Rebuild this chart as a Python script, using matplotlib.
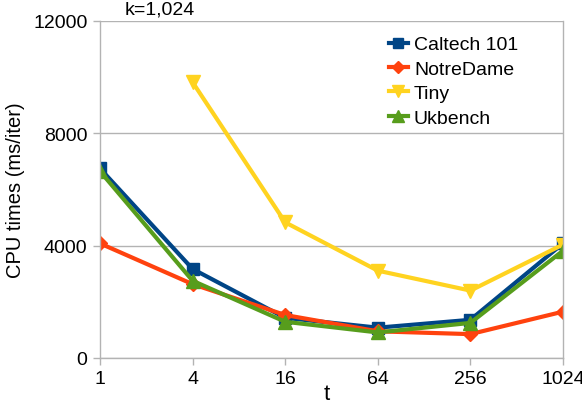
import matplotlib
matplotlib.use("Agg")
import matplotlib.pyplot as plt

t_values = [1, 4, 16, 64, 256, 1024]
t_labels = ["1", "4", "16", "64", "256", "1024"]
caltech = [6750, 3170, 1430, 1080, 1360, 4080]
notredame = [4080, 2630, 1530, 950, 850, 1650]
tiny_t = [4, 16, 64, 256, 1024]
tiny = [9820, 4830, 3110, 2400, 4040]
ukbench = [6650, 2750, 1290, 910, 1250, 3820]
y_ticks = [0, 4000, 8000, 12000]

plt.rcParams['font.family'] = ['Liberation Sans', 'DejaVu Sans']

fig = plt.figure(figsize=(5.82, 4.06), dpi=100)
ax = fig.add_axes([100/582, 1-359/406, 463/582, 337/406])

lw = 3
ms = 9
ax.plot(t_values, caltech, color='#004586', marker='s', lw=lw, ms=ms, label='Caltech 101')
ax.plot(t_values, notredame, color='#ff420e', marker='D', lw=lw, ms=7.5, label='NotreDame')
ax.plot(tiny_t, tiny, color='#ffd320', marker='v', lw=lw, ms=ms+1, label='Tiny')
ax.plot(t_values, ukbench, color='#579d1c', marker='^', lw=lw, ms=ms+1, label='Ukbench')

ax.set_xscale('log', base=2)
ax.set_xlim(1, 1024)
ax.set_xticks(t_values)
ax.set_xticklabels(t_labels)
ax.minorticks_off()
ax.set_ylim(0, 12000)
ax.set_yticks(y_ticks)
ax.set_yticklabels([str(v) for v in y_ticks])

for s in ax.spines.values():
    s.set_color('#b3b3b3')
    s.set_linewidth(1)
ax.spines['top'].set_visible(False)
ax.grid(axis='y', color='#b3b3b3', lw=1)
ax.set_axisbelow(True)
ax.tick_params(axis='both', colors='#b3b3b3', labelcolor='black', labelsize=14, length=5, width=1, pad=4)

for l in ax.get_xticklabels() + ax.get_yticklabels():
    l.set_clip_on(False)

ax.set_ylabel('CPU times (ms/iter)', fontsize=14.5, labelpad=6)
fig.text(327/582, 1-395/406, 't', fontsize=16, va='center', ha='center')
fig.text(125/582, 1-10/406, 'k=1,024', fontsize=14, va='center', ha='left')

leg = ax.legend(loc='upper left', bbox_to_anchor=(279/463, 1-5/337), frameon=False,
                fontsize=14, handlelength=1.0, handletextpad=0.3, labelspacing=0.35,
                borderpad=0, markerscale=0.8)

fig.savefig('out.png', dpi=100)
